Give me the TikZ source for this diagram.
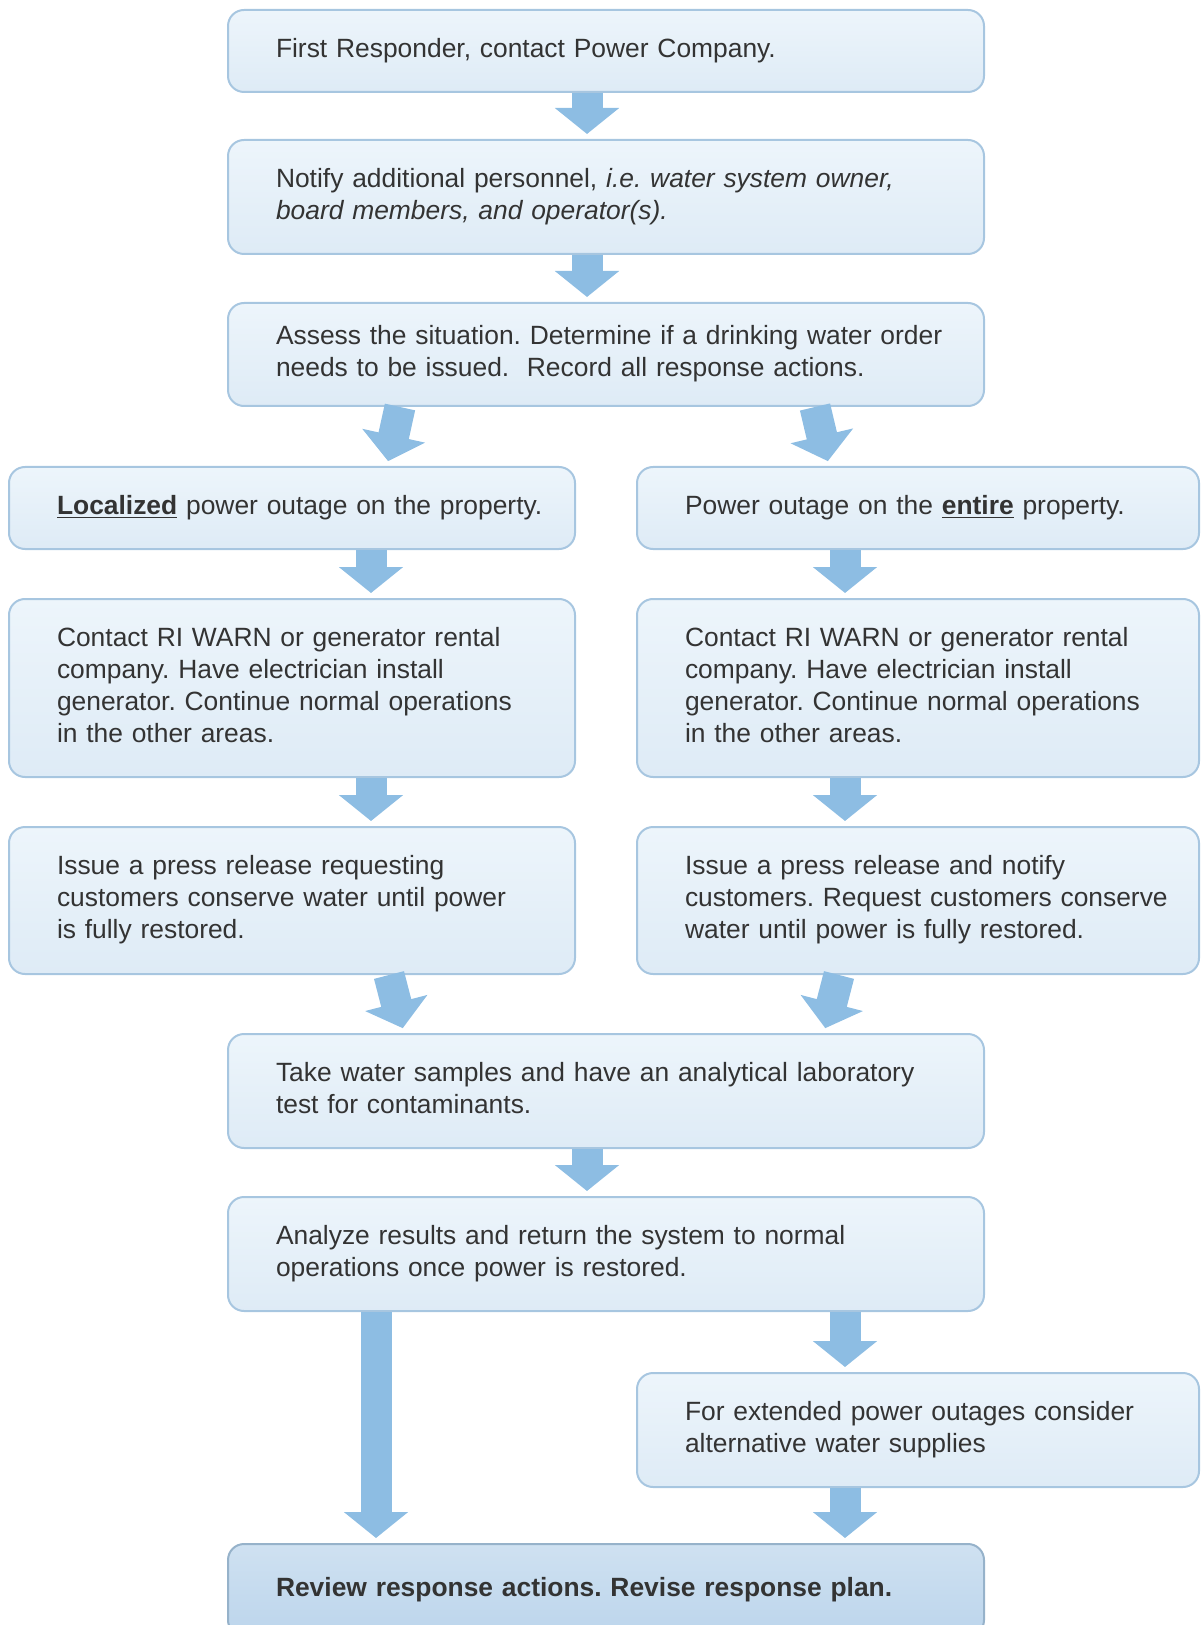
\documentclass[tikz,border=0pt]{standalone}
\usepackage{fontspec}
\setmainfont{Liberation Sans}
\usetikzlibrary{arrows.meta}
\definecolor{boxtop}{HTML}{EDF5FB}
\definecolor{boxbot}{HTML}{DEEBF6}
\definecolor{boxline}{HTML}{A7C6E0}
\definecolor{endtop}{HTML}{CFE1F1}
\definecolor{endbot}{HTML}{BCD5EC}
\definecolor{flow}{HTML}{8DBDE3}
\definecolor{ink}{HTML}{333333}
\newcommand\steplines[1]{\begin{tabular}{@{}l@{}}#1\end{tabular}}
\frenchspacing
\begin{document}
\begin{tikzpicture}[x=0.5pt,y=-0.5pt,
	stepbox/.style={draw=boxline,line width=1pt,rounded corners=8pt,top color=boxtop,bottom color=boxbot,inner xsep=24pt,inner ysep=0pt,align=left,text=ink,font=\fontsize{13.2}{16}\selectfont},
	mainbox/.style={stepbox,minimum width=378pt,text width=330pt},
	leftbox/.style={stepbox,minimum width=283pt,text width=235pt},
	rightbox/.style={stepbox,minimum width=281pt,text width=233pt},
	flowarrow/.style={draw=flow,line width=15.5pt,-{Triangle[width=31.5pt,length=13pt]},shorten >=2.5pt}]
	\clip (0,0) rectangle (1202,1625);
	\node[mainbox,minimum height=41pt] (b1) at (606,51) {\steplines{First Responder, contact Power Company.}};
	\node[mainbox,minimum height=57pt] (b2) at (606,197) {\steplines{Notify additional personnel, \textit{i.e. water system owner,}\\\textit{board members, and operator(s).}}};
	\node[mainbox,minimum height=51.5pt] (b3) at (606,354.5) {\steplines{Assess the situation. Determine if a drinking water order\\needs to be issued.\ \ Record all response actions.}};
	\node[leftbox,minimum height=41pt] (l1) at (292,508) {\steplines{\underline{\textbf{Localized}} power outage on the property.}};
	\node[rightbox,minimum height=41pt] (r1) at (918,508) {\steplines{Power outage on the \underline{\textbf{entire}} property.}};
	\node[leftbox,minimum height=89pt] (l2) at (292,688) {\steplines{Contact RI WARN or generator rental\\company. Have electrician install\\generator. Continue normal operations\\in the other areas.}};
	\node[rightbox,minimum height=89pt] (r2) at (918,688) {\steplines{Contact RI WARN or generator rental\\company. Have electrician install\\generator. Continue normal operations\\in the other areas.}};
	\node[leftbox,minimum height=73.5pt] (l3) at (292,900.5) {\steplines{Issue a press release requesting\\customers conserve water until power\\is fully restored.}};
	\node[rightbox,minimum height=73.5pt] (r3) at (918,900.5) {\steplines{Issue a press release and notify\\customers. Request customers conserve\\water until power is fully restored.}};
	\node[mainbox,minimum height=57pt] (m1) at (606,1091) {\steplines{Take water samples and have an analytical laboratory\\test for contaminants.}};
	\node[mainbox,minimum height=57pt] (m2) at (606,1254) {\steplines{Analyze results and return the system to normal\\operations once power is restored.}};
	\node[rightbox,minimum height=57pt] (r4) at (918,1430) {\steplines{For extended power outages consider\\alternative water supplies}};
	\node[mainbox,minimum height=46pt,top color=endtop,bottom color=endbot,draw=boxline!90!black] (fin) at (606,1590) {\steplines{\textbf{Review response actions. Revise response plan.}}};
	\draw[flowarrow] ([xshift=-9.5pt]b1.south) -- ([xshift=-9.5pt]b2.north);
	\draw[flowarrow] ([xshift=-9.5pt]b2.south) -- ([xshift=-9.5pt]b3.north);
	\draw[flowarrow] ([xshift=-103pt]b3.south) -- ([xshift=47.5pt]l1.north);
	\draw[flowarrow] ([xshift=104.5pt]b3.south) -- ([xshift=-44.5pt]r1.north);
	\draw[flowarrow] ([xshift=39.5pt]l1.south) -- ([xshift=39.5pt]l2.north);
	\draw[flowarrow] ([xshift=-36.5pt]r1.south) -- ([xshift=-36.5pt]r2.north);
	\draw[flowarrow] ([xshift=39.5pt]l2.south) -- ([xshift=39.5pt]l3.north);
	\draw[flowarrow] ([xshift=-36.5pt]r2.south) -- ([xshift=-36.5pt]r3.north);
	\draw[flowarrow] ([xshift=48.5pt]l3.south) -- ([xshift=-101pt]m1.north);
	\draw[flowarrow] ([xshift=-39.5pt]r3.south) -- ([xshift=109pt]m1.north);
	\draw[flowarrow] ([xshift=-9.5pt]m1.south) -- ([xshift=-9.5pt]m2.north);
	\draw[flowarrow] ([xshift=-115pt]m2.south) -- ([xshift=-115pt]fin.north);
	\draw[flowarrow] ([xshift=119.5pt]m2.south) -- ([xshift=-36.5pt]r4.north);
	\draw[flowarrow] ([xshift=-36.5pt]r4.south) -- ([xshift=119.5pt]fin.north);
\end{tikzpicture}
\end{document}
